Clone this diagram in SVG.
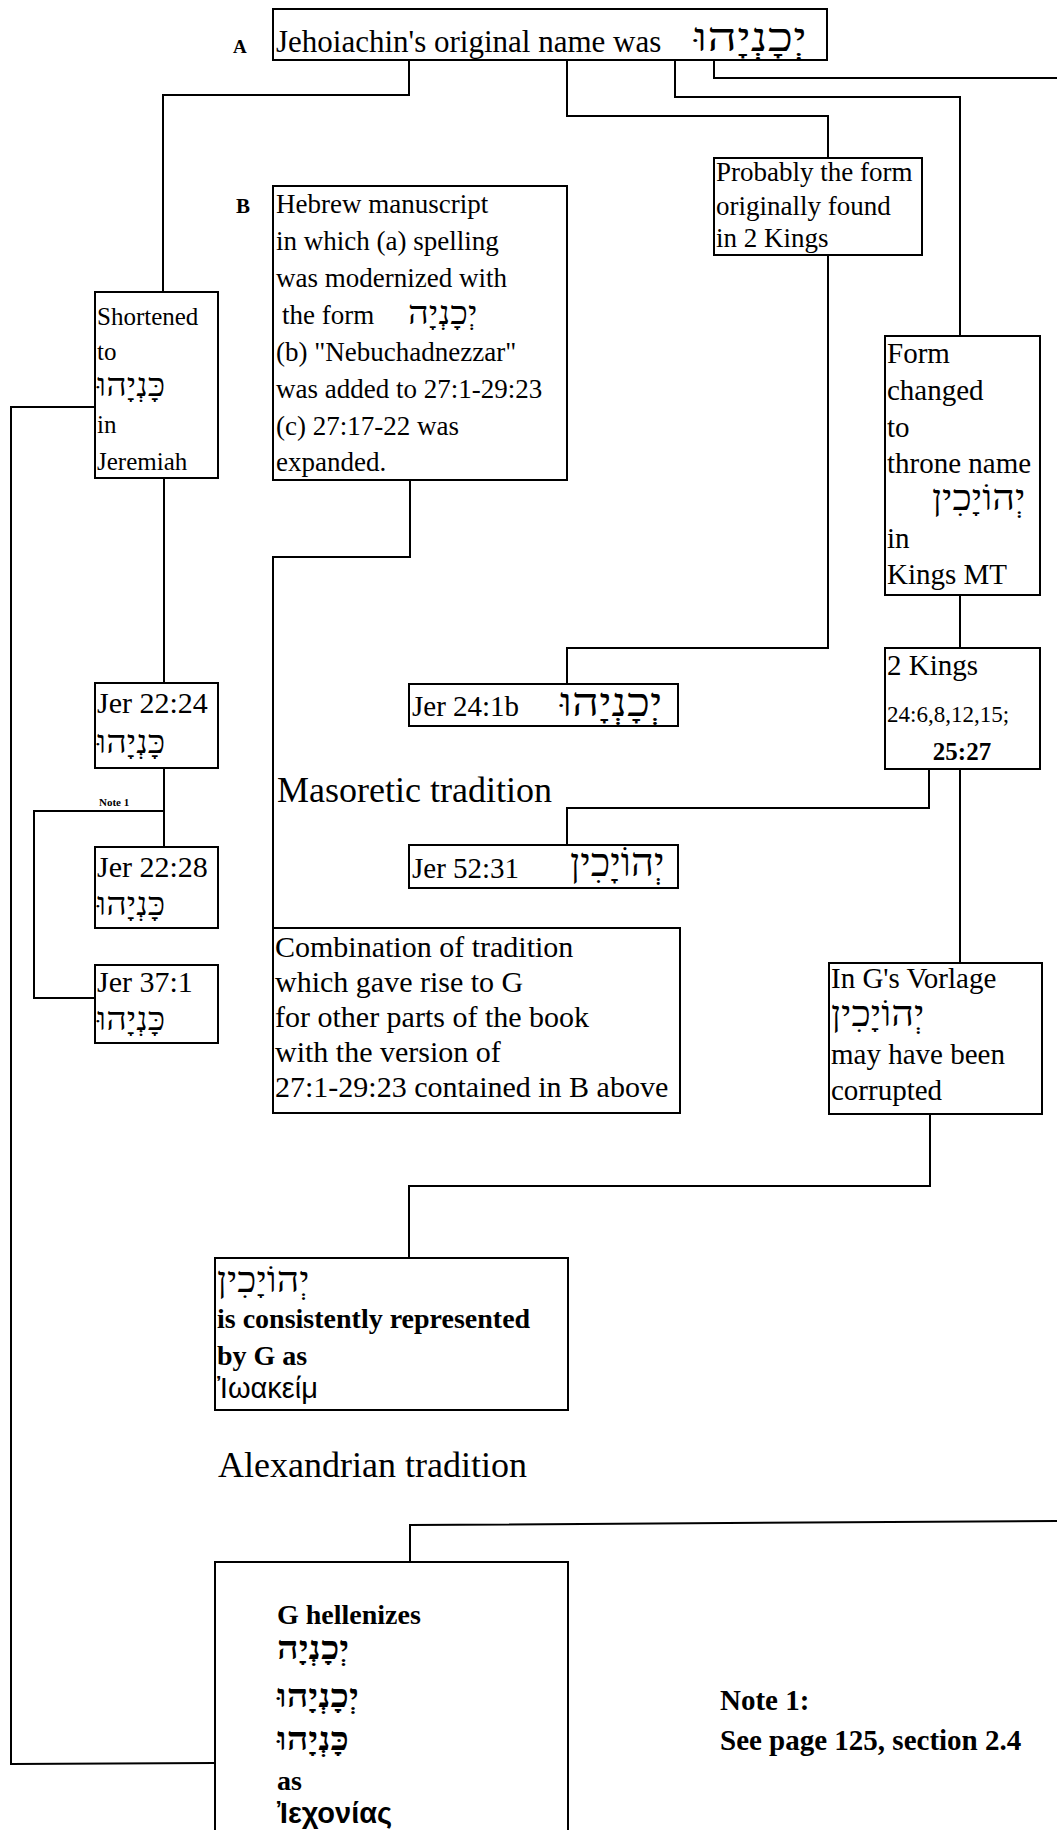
<svg xmlns="http://www.w3.org/2000/svg" width="1057" height="1830" viewBox="0 0 1057 1830">
<style>
.box{fill:#fff;stroke:#000;stroke-width:2}
.ln{fill:none;stroke:#000;stroke-width:2}
text{font-family:"Liberation Serif","Times New Roman",serif;fill:#000}
.t27{font-size:27px}
.t29{font-size:29px}
.t30{font-size:30px}
.big{font-size:36px}
.heb{font-family:"Liberation Serif","DejaVu Serif",serif}
.grk{font-family:"Liberation Sans","DejaVu Sans",sans-serif}
.b{font-weight:bold}
</style>
<rect width="1057" height="1830" fill="#fff"/>
<g id="connectors">
<polyline class="ln" points="409,60 409,95 163,95 163,292"/>
<polyline class="ln" points="567,60 567,116 828,116 828,158"/>
<polyline class="ln" points="675,60 675,97 960,97 960,336"/>
<polyline class="ln" points="714,60 714,78 1057,78"/>
<polyline class="ln" points="164,478 164,683"/>
<polyline class="ln" points="164,768 164,847"/>
<polyline class="ln" points="164,811 34,811 34,998 95,998"/>
<polyline class="ln" points="95,407 11,407 11,1764 215,1763"/>
<polyline class="ln" points="410,480 410,557 273,557 273,928"/>
<polyline class="ln" points="828,255 828,648 567,648 567,684"/>
<polyline class="ln" points="960,595 960,648"/>
<polyline class="ln" points="929,769 929,808 567,808 567,845"/>
<polyline class="ln" points="960,769 960,963"/>
<polyline class="ln" points="930,1114 930,1186 409,1186 409,1258"/>
<polyline class="ln" points="1057,1521 410,1525 410,1562"/>
</g>
<g id="nodeA">
<rect class="box" x="273" y="9" width="554" height="51"/>
<text class="b" x="233" y="53" font-size="19">A</text>
<text x="276" y="52" font-size="31">Jehoiachin's original name was</text>
<text class="heb" transform="translate(694,51) scale(1.3,1)" font-size="40">יְכָנְיָהוּ</text>
</g>
<g id="nodeB">
<rect class="box" x="273" y="186" width="294" height="294"/>
<text class="b" x="236" y="213" font-size="21">B</text>
<text class="t27" x="276" y="213">Hebrew manuscript</text>
<text class="t27" x="276" y="250">in which (a) spelling</text>
<text class="t27" x="276" y="287">was modernized with</text>
<text class="t27" x="282" y="324">the form</text>
<text class="heb" transform="translate(408,324) scale(1.1,1)" font-size="33">יְכָנְיָה</text>
<text class="t27" x="276" y="361">(b) "Nebuchadnezzar"</text>
<text class="t27" x="276" y="398">was added to 27:1-29:23</text>
<text class="t27" x="276" y="435">(c) 27:17-22 was</text>
<text class="t27" x="276" y="471">expanded.</text>
</g>
<g id="nodeShortened">
<rect class="box" x="95" y="292" width="123" height="186"/>
<text x="97" y="325" font-size="25">Shortened</text>
<text x="97" y="360" font-size="25">to</text>
<text class="heb" transform="translate(97,396) scale(1.12,1)" font-size="32">כָּנְיָהוּ</text>
<text x="97" y="433" font-size="25">in</text>
<text x="97" y="470" font-size="25">Jeremiah</text>
</g>
<g id="nodeProbably">
<rect class="box" x="714" y="158" width="208" height="97"/>
<text class="t27" x="716" y="181">Probably the form</text>
<text class="t27" x="716" y="215">originally found</text>
<text class="t27" x="716" y="247">in 2 Kings</text>
</g>
<g id="nodeForm">
<rect class="box" x="885" y="336" width="155" height="259"/>
<text class="t29" x="887" y="363">Form</text>
<text class="t29" x="887" y="400">changed</text>
<text class="t29" x="887" y="437">to</text>
<text class="t29" x="887" y="473">throne name</text>
<text class="heb" transform="translate(932,510) scale(1.1,1)" font-size="36">יְהוֹיָכִין</text>
<text class="t29" x="887" y="548">in</text>
<text class="t29" x="887" y="584">Kings MT</text>
</g>
<g id="nodeJer2224">
<rect class="box" x="95" y="683" width="123" height="85"/>
<text class="t30" x="97" y="713">Jer 22:24</text>
<text class="heb" transform="translate(97,753) scale(1.12,1)" font-size="32">כָּנְיָהוּ</text>
</g>
<g id="note1label">
<text class="b" x="99" y="806" font-size="11">Note 1</text>
</g>
<g id="nodeJer2228">
<rect class="box" x="95" y="847" width="123" height="81"/>
<text class="t30" x="97" y="877">Jer 22:28</text>
<text class="heb" transform="translate(97,915) scale(1.12,1)" font-size="32">כָּנְיָהוּ</text>
</g>
<g id="nodeJer371">
<rect class="box" x="95" y="965" width="123" height="78"/>
<text class="t30" x="97" y="992">Jer 37:1</text>
<text class="heb" transform="translate(97,1030) scale(1.12,1)" font-size="32">כָּנְיָהוּ</text>
</g>
<g id="nodeJer241b">
<rect class="box" x="409" y="684" width="269" height="42"/>
<text class="t29" x="412" y="716">Jer 24:1b</text>
<text class="heb" transform="translate(560,716) scale(1.18,1)" font-size="40">יְכָנְיָהוּ</text>
</g>
<g id="masoretic">
<text class="big" x="277" y="802">Masoretic tradition</text>
</g>
<g id="nodeJer5231">
<rect class="box" x="409" y="845" width="269" height="43"/>
<text class="t29" x="412" y="878">Jer 52:31</text>
<text class="heb" transform="translate(570,876)" font-size="40">יְהוֹיָכִין</text>
</g>
<g id="node2Kings">
<rect class="box" x="885" y="648" width="155" height="121"/>
<text class="t29" x="887" y="675">2 Kings</text>
<text x="887" y="722" font-size="23">24:6,8,12,15;</text>
<text class="b" x="962" y="760" font-size="25" text-anchor="middle">25:27</text>
</g>
<g id="nodeCombination">
<rect class="box" x="273" y="928" width="407" height="185"/>
<text class="t30" x="275" y="957">Combination of tradition</text>
<text class="t30" x="275" y="992">which gave rise to G</text>
<text class="t30" x="275" y="1027">for other parts of the book</text>
<text class="t30" x="275" y="1062">with the version of</text>
<text class="t30" x="275" y="1097">27:1-29:23 contained in B above</text>
</g>
<g id="nodeVorlage">
<rect class="box" x="829" y="963" width="213" height="151"/>
<text class="t29" x="831" y="988">In G's Vorlage</text>
<text class="heb" transform="translate(831,1026) scale(1.1,1)" font-size="36">יְהוֹיָכִין</text>
<text class="t29" x="831" y="1064">may have been</text>
<text class="t29" x="831" y="1100">corrupted</text>
</g>
<g id="nodeConsistent">
<rect class="box" x="215" y="1258" width="353" height="152"/>
<text class="heb" transform="translate(217,1292) scale(1.09,1)" font-size="36">יְהוֹיָכִין</text>
<text class="b" x="217" y="1328" font-size="28">is consistently represented</text>
<text class="b" x="217" y="1365" font-size="28">by G as</text>
<text class="grk" x="217" y="1398" font-size="29">Ἰωακείμ</text>
</g>
<g id="alexandrian">
<text class="big" x="218" y="1477">Alexandrian tradition</text>
</g>
<g id="nodeHellenizes">
<rect class="box" x="215" y="1562" width="353" height="290"/>
<text class="b" x="277" y="1624" font-size="28">G hellenizes</text>
<text class="heb b" transform="translate(277,1659) scale(1.18,1)" font-size="32">יְכָנְיָה</text>
<text class="heb b" transform="translate(277,1707) scale(1.18,1)" font-size="32">יְכָנְיָהוּ</text>
<text class="heb b" transform="translate(277,1750) scale(1.18,1)" font-size="32">כָּנְיָהוּ</text>
<text class="b" x="277" y="1790" font-size="28">as</text>
<text class="grk b" x="277" y="1823" font-size="29">Ἰεχονίας</text>
</g>
<g id="note1">
<text class="b" x="720" y="1710" font-size="29">Note 1:</text>
<text class="b" x="720" y="1750" font-size="29">See page 125, section 2.4</text>
</g>
</svg>
